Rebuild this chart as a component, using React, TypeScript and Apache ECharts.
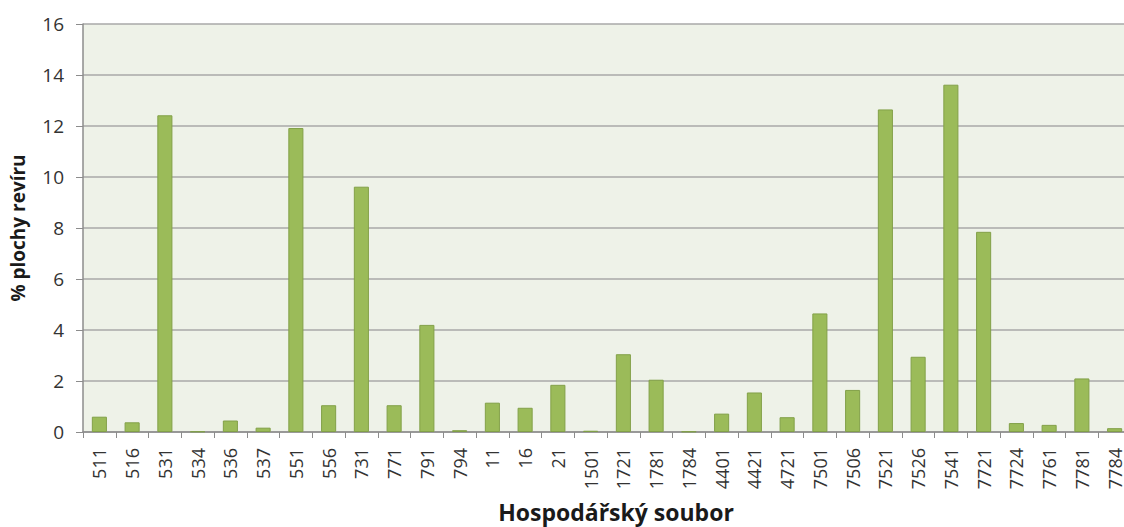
import React, { useEffect, useRef } from "react";
import * as echarts from "echarts";

const categories = [
  "511", "516", "531", "534", "536", "537", "551", "556", "731", "771", "791", "794",
  "11", "16", "21", "1501", "1721", "1781", "1784", "4401", "4421", "4721",
  "7501", "7506", "7521", "7526", "7541", "7721", "7724", "7761", "7781", "7784",
];

const values = [
  0.6, 0.38, 12.42, 0.02, 0.45, 0.17, 11.92, 1.05, 9.62, 1.05, 4.2, 0.07,
  1.15, 0.95, 1.85, 0.05, 3.05, 2.05, 0.02, 0.72, 1.55, 0.58,
  4.65, 1.65, 12.65, 2.95, 13.62, 7.85, 0.35, 0.28, 2.1, 0.15,
];

const yTitle = "% plochy revíru";
const xTitle = "Hospodářský soubor";

export default function App() {
  const ref = useRef<HTMLDivElement>(null);
  useEffect(() => {
    if (!ref.current) return;
    const chart = echarts.init(ref.current, null, { renderer: "svg" });
    const font = "'Open Sans', sans-serif";
    chart.setOption({
      animation: false,
      textStyle: { fontFamily: font },
      grid: {
        left: 83,
        right: 0,
        top: 24,
        bottom: 95,
        show: true,
        backgroundColor: "#eef2e8",
        borderWidth: 0,
        containLabel: false,
        outerBoundsMode: "none",
      },
      xAxis: {
        type: "category",
        data: categories,
        name: xTitle,
        nameLocation: "middle",
        nameGap: 68,
        nameTextStyle: {
          fontSize: 23,
          lineHeight: 24,
          fontWeight: "bold",
          color: "#1a1a1a",
          fontFamily: font,
          padding: [0, 0, 0, 18],
        },
        axisLine: { show: true, lineStyle: { color: "#8c8c8c", width: 1.5 } },
        axisTick: { show: true, interval: 0, length: 6, lineStyle: { color: "#8c8c8c" } },
        axisLabel: { interval: 0, rotate: 90, fontSize: 18, lineHeight: 17, color: "#333", margin: 16, fontFamily: font },
        splitLine: { show: false },
      },
      yAxis: {
        type: "value",
        min: 0,
        max: 16,
        interval: 2,
        name: yTitle,
        nameLocation: "middle",
        nameGap: 56,
        nameTextStyle: { fontSize: 19, fontWeight: "bold", color: "#1a1a1a", fontFamily: font },
        axisLine: { show: true, lineStyle: { color: "#8c8c8c", width: 1.5 } },
        axisTick: { show: true, length: 7, lineStyle: { color: "#8c8c8c" } },
        axisLabel: { fontSize: 19, color: "#333", margin: 19, fontFamily: font },
        splitLine: { show: true, lineStyle: { color: "#a8a8a8", width: 1.5 } },
      },
      series: [
        {
          type: "bar",
          data: values,
          barWidth: "46%",
          itemStyle: { color: "#9bbb59", borderColor: "#82a048", borderWidth: 1 },
        },
      ],
    });
    return () => chart.dispose();
  }, []);
  return (
    <div
      style={{ position: "fixed", left: 0, top: 0, width: 1124, height: 527, overflow: "hidden", background: "#fff" }}
    >
      <div ref={ref} style={{ width: 1131, height: 527 }} />
    </div>
  );
}
